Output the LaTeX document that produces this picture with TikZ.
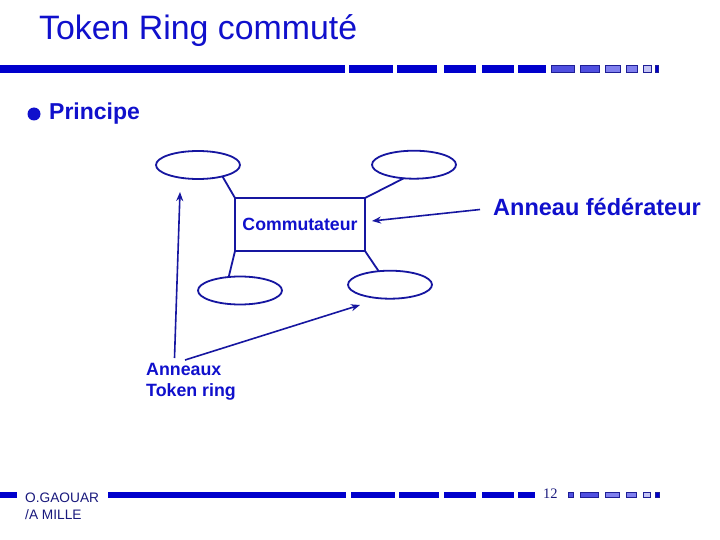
\documentclass[tikz,border=0pt]{standalone}
\usepackage{fontspec}
\setmainfont{Liberation Sans}
\newfontfamily\seriffont{Liberation Serif}
\usetikzlibrary{shapes.geometric,arrows.meta}
\definecolor{tblue}{RGB}{16,16,204}
\definecolor{lblue}{RGB}{22,22,160}
\definecolor{bblue}{RGB}{0,0,204}
\definecolor{navy}{RGB}{25,25,125}
\definecolor{segA}{RGB}{80,80,224}
\definecolor{segB}{RGB}{128,128,238}
\definecolor{segC}{RGB}{196,196,244}
\definecolor{segborder}{RGB}{30,30,150}
\begin{document}
\begin{tikzpicture}[x=1pt,y=-1pt,
  ring/.style={ellipse,draw=lblue,line width=1.8pt,minimum width=84pt,minimum height=28pt,inner sep=0pt,outer sep=0pt},
  switchbox/.style={rectangle,draw=lblue,line width=1.8pt,minimum width=130pt,minimum height=53pt,inner sep=0pt,outer sep=0pt,text=tblue,font=\bfseries\fontsize{17.7}{20}\selectfont},
  link/.style={draw=lblue,line width=1.8pt},
  arr/.style={draw=lblue,line width=1.6pt,-{Stealth[length=9pt,width=7pt]}},
  lab/.style={anchor=base west,inner sep=0pt,text=tblue,font=\bfseries\fontsize{17.8}{21}\selectfont},
  foot/.style={anchor=base west,inner sep=0pt,text=navy,font=\fontsize{13.7}{16}\selectfont},
  lseg/.style={draw=segborder,line width=1pt},
]
\useasboundingbox (0,0) rectangle (720,540);
\fill[white] (0,0) rectangle (720,540);

% top bar
\foreach \a/\b in {0/345,349/393,397/437,444/476,482/514,518/546}
  \fill[bblue] (\a,65) rectangle (\b,72.7);
\filldraw[lseg,fill=segA] (551.5,65.5) rectangle (574.5,72.2);
\filldraw[lseg,fill=segA] (580.5,65.5) rectangle (599.5,72.2);
\filldraw[lseg,fill=segB] (605.5,65.5) rectangle (620.5,72.2);
\filldraw[lseg,fill=segB] (626.5,65.5) rectangle (637.5,72.2);
\filldraw[lseg,fill=segC] (643.5,65.5) rectangle (651.5,72.2);
\filldraw[lseg,fill=bblue] (655.5,65.5) rectangle (658.5,72.2);

% bottom bar
\foreach \a/\b in {0/17,108/346,351/395,399/439,444/476,482/514,518/535}
  \fill[bblue] (\a,492) rectangle (\b,498);
\filldraw[lseg,fill=segA] (568.5,492.5) rectangle (573.5,497.5);
\filldraw[lseg,fill=segA] (580.5,492.5) rectangle (598.5,497.5);
\filldraw[lseg,fill=segB] (605.5,492.5) rectangle (619.5,497.5);
\filldraw[lseg,fill=segB] (626.5,492.5) rectangle (636.5,497.5);
\filldraw[lseg,fill=segC] (643.5,492.5) rectangle (650.5,497.5);
\filldraw[lseg,fill=bblue] (655.5,492.5) rectangle (659.5,497.5);

% title and bullet
\node[anchor=base west,inner sep=0pt,text=tblue,font=\fontsize{33.85}{40}\selectfont] (title) at (39,40) {Token Ring commuté};
\node[circle,fill=tblue,minimum size=13pt,inner sep=0pt] (bullet) at (34,114) {};
\node[anchor=base west,inner sep=0pt,text=tblue,font=\bfseries\fontsize{23}{27}\selectfont] (principe) at (49,119.5) {Principe};

% diagram
\node[switchbox] (sw) at (300,224.5) {Commutateur};
\node[ring] (e1) at (198,165) {};
\node[ring] (e2) at (414,164.7) {};
\node[ring] (e3) at (240,290.5) {};
\node[ring] (e4) at (390,284.7) {};
\draw[link] (sw.north west) -- (e1.-25);
\draw[link] (sw.north east) -- (e2.-127);
\draw[link] (sw.south west) -- (e3.130);
\draw[link] (sw.south east) -- (e4.130);

\node[lab,font=\bfseries\fontsize{23.5}{27}\selectfont] (fed) at (493,215) {Anneau fédérateur};
\node[lab] (ann) at (146,375) {Anneaux};
\node[lab] (tok) at (146,396) {Token ring};

\coordinate (fs) at (480,209.5);
\coordinate (fe) at (372,221);
\draw[arr] (fs) -- (fe);
\coordinate (vs) at (174.5,358);
\coordinate (ve) at (180,192);
\draw[arr] (vs) -- (ve);
\coordinate (ds) at (185,360);
\coordinate (de) at (360,305);
\draw[arr] (ds) -- (de);

% footer
\node[foot] (auth1) at (25,502.7) {O.GAOUAR};
\node[foot] (auth2) at (25,519.3) {/A MILLE};
\node[anchor=base west,inner sep=0pt,text=navy,font=\seriffont\fontsize{14.5}{16}\selectfont] (page) at (543,498) {12};
\end{tikzpicture}
\end{document}
